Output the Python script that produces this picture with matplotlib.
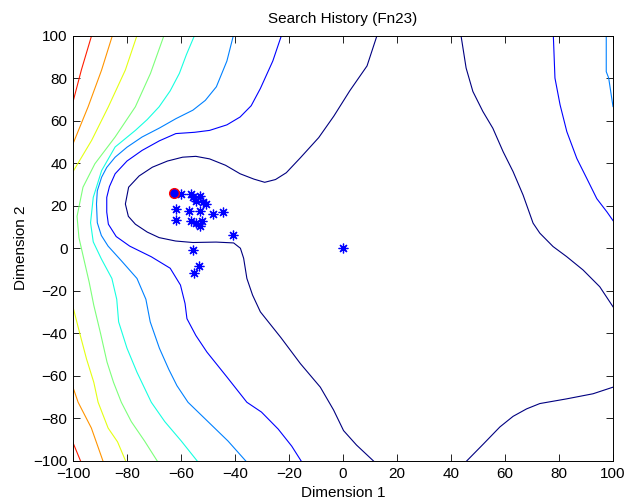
import matplotlib
matplotlib.use('Agg')
import matplotlib.pyplot as plt

plt.rcParams['font.family'] = ['Liberation Sans', 'DejaVu Sans']

# contour lines of the Fn23 landscape, level index -> jet colour (index / 8)
# level 0 (lowest)
lv0_a_x = [12.6, 8.9, 2.5, -3.4, -9, -15.8, -21, -25, -29, -33, -38.1, -43.5, -49.4, -54.5, -59.4,
           -65, -70.6, -75.5, -79.4, -80.6, -79.5, -76.9, -72.5, -68.1, -62, -55.6, -47, -40.5, -38,
           -36.8, -35.6, -33.5, -30.6, -23, -15.8, -8.4, -3.5, 0.2, 5, 11.3]
lv0_a_y = [100, 85.7, 74, 62.1, 52, 42.5, 35.5, 32.3, 31, 32.5, 35, 39, 42, 43.2, 42.8,
           41, 38.1, 34, 28.7, 20.8, 15, 11.3, 7.6, 5, 3.4, 2.7, 2.9, 2.5, 0,
           -4.7, -14.2, -22, -29.9, -42, -54.2, -65.3, -76, -85.7, -92.5, -100]
lv0_b_x = [43.7, 45.6, 48.1, 51.8, 55.5, 59.3, 63, 66.7, 70.4, 72.9, 77.8, 82.8, 88.9, 95.1, 100]
lv0_b_y = [100, 84.7, 73.7, 64.3, 56.4, 45.4, 36, 25, 11.8, 7.1, 0.8, -3.9, -10.2, -18.1, -27.5]
lv0_c_x = [45.8, 52, 58.1, 63, 68, 72.9, 82.8, 92.6, 100]
lv0_c_y = [-100, -92, -84, -79, -75.5, -73, -70.8, -68.4, -65.3]

# level 1
lv1_a_x = [-22.8, -26, -30.6, -34, -38.1, -43, -49.4, -55, -61.9, -68, -74.4, -80, -84.4, -86.5,
           -87.5, -87.5, -86.9, -84, -79, -71, -64, -60.2, -58.5, -57.8, -54.5, -50.4, -43,
           -35.6, -30.2, -24, -19, -15.5]
lv1_a_y = [100, 88, 75.1, 67, 61.7, 58, 55.4, 54.5, 53.9, 50.5, 46, 41, 35, 29,
           23.9, 17, 11.3, 5.5, 1, -4, -9.4, -17.3, -26, -33.1, -41, -48.8, -60.5,
           -72.4, -77, -85, -93, -100]
lv1_b_x = [77.9, 78.5, 80.4, 82.9, 86.6, 90.3, 94, 97.8, 100]
lv1_b_y = [100, 80, 67.4, 54.8, 42.2, 32.8, 23.3, 17, 13]

# level 2
lv2_a_x = [-40.6, -43, -46.9, -51, -55.6, -61.9, -68, -74.4, -80, -84.4, -87.5, -89.4, -91, -91.3,
           -91, -89.5, -87, -82, -76.3, -73, -71.4, -68, -64.5, -61.5, -57.4, -50, -42.6, -36]
lv2_a_y = [100, 88, 75.9, 69.5, 64.9, 60.9, 56.5, 52.3, 47.5, 42.8, 38, 33.4, 27, 20.8,
           12, 6, 1, -6, -14.2, -24, -34.6, -47, -57, -64.6, -72.4, -81.5, -90.6, -100]
lv2_b_x = [97.5, 97.5, 98.4, 100]
lv2_b_y = [100, 83, 80, 66.6]

# level 3
lv3_x = [-55, -58, -60.6, -64, -68.1, -72.5, -76.9, -84.4, -89.4, -92.5, -93.5, -92.5, -89.5,
         -85.6, -83.8, -83.1, -80, -76.3, -71, -66, -59.9, -54]
lv3_y = [100, 91, 82.2, 74, 66.5, 60.5, 55.4, 47.6, 36.5, 23.9, 12, 3, -5,
         -14.2, -24, -34.6, -47, -58.3, -72.4, -81.5, -90.6, -100]

# level 4
lv4_x = [-66.3, -71.3, -76.9, -84.4, -91.9, -96.3, -98.5, -97.8, -96, -94, -92.3, -89.8, -87.4,
         -85, -82.1, -78.4, -73.5, -68.8]
lv4_y = [100, 82.2, 66.5, 52.3, 39.7, 28.7, 15, 5, -5, -16, -26.8, -40, -53.5,
         -63, -72.4, -81.5, -90.6, -100]

# level 5
lv5_a_x = [-76.3, -80.6, -86.9, -93.1, -100]
lv5_a_y = [100, 83.8, 66.5, 50.7, 36]
lv5_b_x = [-100, -97.5, -95, -92.3, -90.7, -87, -83.5, -80.5]
lv5_b_y = [-27.6, -40, -52, -63, -72.4, -84.5, -91, -100]

# level 6
lv6_a_x = [-85.4, -89.4, -94.4, -100]
lv6_a_y = [100, 83.8, 66.5, 49.1]
lv6_b_x = [-100, -98.1, -93.2, -88.9]
lv6_b_y = [-65.4, -72.4, -84.5, -100]

# level 7
lv7_a_x = [-93.1, -96.9, -100]
lv7_a_y = [100, 83.8, 68.8]
lv7_b_x = [-100, -97.2]
lv7_b_y = [-91.4, -100]

# points visited by the search
search_x = [-62.5, -60, -56.3, -55.6, -53.1, -54.4, -51.9, -50.6, -56.9, -61.9, -53.1, -61.9,
            -56.3, -54.4, -53.1, -52.1, -48.1, -44.6, -40.9, -55.6, -53.5, -55.3, 0]
search_y = [26, 25.5, 25.5, 23.9, 24.7, 22.4, 21.6, 20.8, 17.6, 18.4, 17.6, 13.2,
            12.9, 12.1, 10.6, 12.9, 16.1, 16.9, 6.3, -0.8, -8.2, -11.8, 0]
best_x = [-62.5]
best_y = [26]

lines = [
    (0, lv0_a_x, lv0_a_y), (0, lv0_b_x, lv0_b_y), (0, lv0_c_x, lv0_c_y),
    (1, lv1_a_x, lv1_a_y), (1, lv1_b_x, lv1_b_y),
    (2, lv2_a_x, lv2_a_y), (2, lv2_b_x, lv2_b_y),
    (3, lv3_x, lv3_y),
    (4, lv4_x, lv4_y),
    (5, lv5_a_x, lv5_a_y), (5, lv5_b_x, lv5_b_y),
    (6, lv6_a_x, lv6_a_y), (6, lv6_b_x, lv6_b_y),
    (7, lv7_a_x, lv7_a_y), (7, lv7_b_x, lv7_b_y),
]

fig = plt.figure(figsize=(6.39, 5.04), dpi=100)
ax = fig.add_axes([73 / 639, 43 / 504, 540 / 639, 425.5 / 504])

for level, xs, ys in lines:
    ax.plot(xs, ys, color=plt.cm.jet(level / 8), lw=0.8)

ax.plot(search_x, search_y, linestyle='none', marker=(8, 2, 0), ms=7, mew=0.9, color='blue')
ax.plot(best_x, best_y, linestyle='none', marker='o', ms=7, mew=1.0, mfc='blue', mec='red')

ax.set_xlim(-100, 100)
ax.set_ylim(-100, 100)
ax.set_xticks(range(-100, 101, 20))
ax.set_yticks(range(-100, 101, 20))
ax.tick_params(direction='in', top=True, right=True, length=5, width=0.6, labelsize=11, pad=4)
for sp in ax.spines.values():
    sp.set_linewidth(0.7)

ax.set_title('Search History (Fn23)', fontsize=11, pad=9)
ax.set_xlabel('Dimension 1', fontsize=11, labelpad=4)
ax.set_ylabel('Dimension 2', fontsize=11, labelpad=4)

fig.savefig('out.png', dpi=100)
